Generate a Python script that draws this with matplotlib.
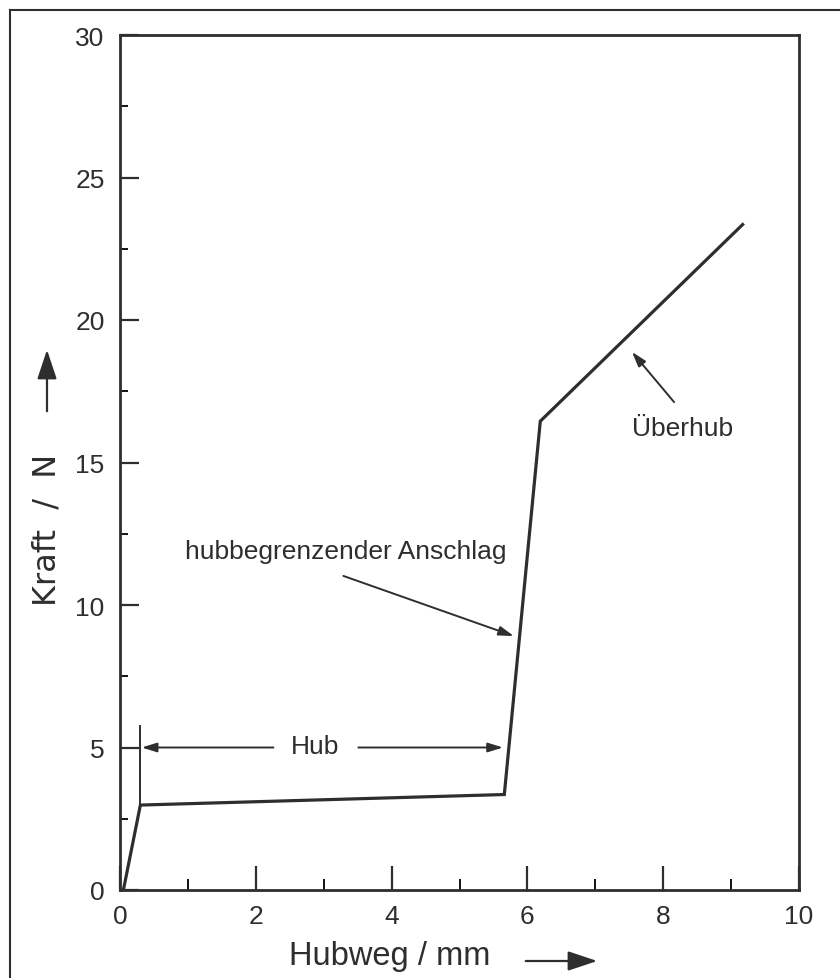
import matplotlib
matplotlib.use('Agg')
import matplotlib.pyplot as plt
from matplotlib.lines import Line2D
from matplotlib.ticker import MultipleLocator

# ---- data ----
hubweg_mm = [0.05, 0.30, 5.66, 6.19, 9.17]
kraft_N = [0.0, 2.98, 3.35, 16.45, 23.35]
x_ticks = [0, 2, 4, 6, 8, 10]
y_ticks = [0, 5, 10, 15, 20, 25, 30]
x_label = "Hubweg / mm"
y_label = "Kraft / N"
hub_label = "Hub"
stop_label = "hubbegrenzender Anschlag"
over_label = "Überhub"

INK = '#2e2e2e'
FONT = ['Liberation Sans', 'DejaVu Sans']
plt.rcParams['font.family'] = FONT

fig = plt.figure(figsize=(8.4, 9.79), dpi=100)
ax = fig.add_axes([120/840, 1-891/979, (799-120)/840, (891-36)/979])

ax.plot(hubweg_mm, kraft_N, color=INK, lw=2.3, solid_joinstyle='miter')

ax.set_xlim(0, 10)
ax.set_ylim(0, 30)
ax.set_xticks(x_ticks)
ax.set_yticks(y_ticks)
ax.xaxis.set_minor_locator(MultipleLocator(1))
ax.yaxis.set_minor_locator(MultipleLocator(2.5))
for s in ax.spines.values():
    s.set_linewidth(2.0)
    s.set_color(INK)
ax.tick_params(axis='x', which='major', direction='in', length=17, width=1.6,
               pad=10, labelsize=19, colors=INK, top=False)
ax.tick_params(axis='x', which='minor', direction='in', length=8, width=1.3,
               top=False)
ax.tick_params(axis='y', which='major', direction='in', length=13.5, width=1.6,
               pad=11, labelsize=19, colors=INK, right=False)
ax.tick_params(axis='y', which='minor', direction='in', length=6, width=1.3,
               right=False)
for lab in ax.get_xticklabels() + ax.get_yticklabels():
    lab.set_color(INK)

arrow_kw = dict(arrowstyle='-|>,head_length=0.9,head_width=0.28', color=INK,
                lw=1.4, shrinkA=0, shrinkB=0)

# Hub annotation
ax.plot([0.30, 0.30], [2.98, 5.75], color=INK, lw=1.4)
ax.text(2.88, 5.05, hub_label, ha='center', va='center', fontsize=19, color=INK)
ax.annotate('', xy=(0.32, 5.0), xytext=(2.26, 5.0), arrowprops=arrow_kw)
ax.annotate('', xy=(5.64, 5.0), xytext=(3.51, 5.0), arrowprops=arrow_kw)

# stop annotation
ax.text(0.96, 11.9, stop_label, ha='left', va='center', fontsize=19, color=INK)
ax.annotate('', xy=(5.80, 8.91), xytext=(3.29, 11.02), arrowprops=arrow_kw)

# overtravel annotation
ax.text(8.29, 16.2, over_label, ha='center', va='center', fontsize=19, color=INK)
ax.annotate('', xy=(7.54, 18.88), xytext=(8.16, 17.12), arrowprops=arrow_kw)

# axis labels with arrows
fig.text(390/840, 1-957/979, x_label, ha='center', va='center', fontsize=23.5,
         color=INK)
fig.add_artist(matplotlib.patches.FancyArrowPatch(
    (523/840, 1-962/979), (600/840, 1-962/979), transform=fig.transFigure,
    arrowstyle='-|>,head_length=0.9,head_width=0.3', color=INK, lw=1.6,
    mutation_scale=20))
fig.text(47/840, 1-530/979, "Kraft  /  N", ha='center', va='center',
         fontsize=23, color=INK, rotation=90, family=['DejaVu Sans'])
fig.add_artist(matplotlib.patches.FancyArrowPatch(
    (47/840, 1-415/979), (47/840, 1-348/979), transform=fig.transFigure,
    arrowstyle='-|>,head_length=0.9,head_width=0.3', color=INK, lw=1.6,
    mutation_scale=20))

# scan frame
fig.add_artist(Line2D([10/840, 1.0], [1-11/979, 1-11/979],
                      transform=fig.transFigure, color=INK, lw=1.5))
fig.add_artist(Line2D([10/840, 10/840], [0.0, 1-11/979],
                      transform=fig.transFigure, color=INK, lw=1.5))

fig.savefig('out.png', dpi=100)
